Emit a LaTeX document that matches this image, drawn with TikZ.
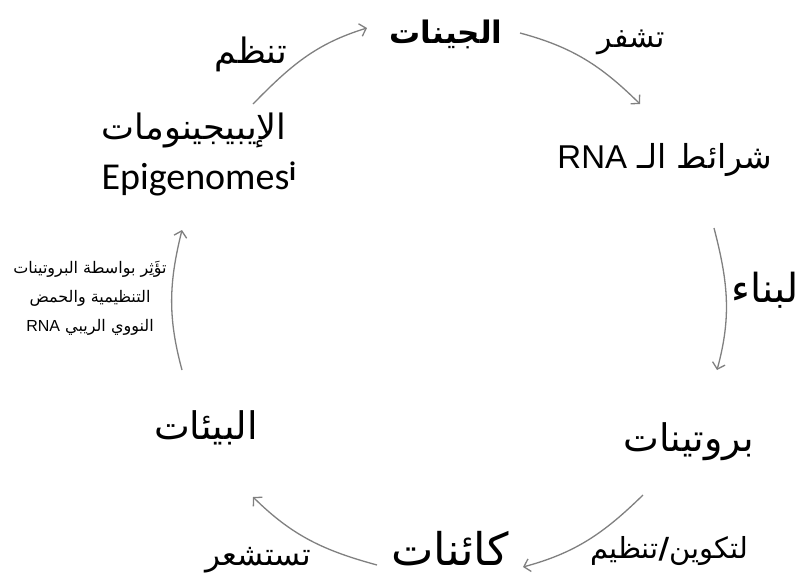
\documentclass[tikz,border=0pt]{standalone}
\usepackage{fontspec}
\usetikzlibrary{arrows.meta}
\TeXXeTstate=1
\newfontfamily\arabicfont[Script=Arabic]{DejaVu Sans}
\newfontfamily\latinsans{Liberation Sans}
\newfontfamily\carl{Carlito}
\newcommand{\fsz}[1]{\fontsize{#1}{#1}\selectfont}
\begin{document}
\begin{tikzpicture}[x=1pt,y=-1pt,
  lbl/.style={inner sep=0pt,font=\arabicfont},
  arr/.style={draw=black!50,line width=1.3pt,-{Straight Barb[length=6pt,width=13pt]}}]
\useasboundingbox[fill=white] (0,0) rectangle (809,582);
% nodes
\node[lbl,font=\arabicfont\bfseries\fsz{31}] (genes) at (446,34) {\beginR الجينات\endR};
\node[lbl,font=\arabicfont\fsz{35}] (tanzum) at (251,54) {\beginR تنظم\endR};
\node[lbl,font=\arabicfont\fsz{30}] (tushaffir) at (631,42) {\beginR تشفر\endR};
\node[lbl,font=\arabicfont\fsz{33}] (rna) at (665,160) {\beginR شرائط الـ \beginL{\latinsans RNA}\endL\endR};
\node[lbl,font=\arabicfont\fsz{40},anchor=west] (libina) at (731,290) {\beginR لبناء\endR};
\node[lbl,font=\arabicfont\fsz{38}] (proteins) at (689,442) {\beginR بروتينات\endR};
\node[lbl,font=\arabicfont\fsz{45}] (organisms) at (450,549) {\beginR كائنات\endR};
\node[lbl,font=\arabicfont\fsz{29}] (form) at (669,551) {\beginR لتكوين\textbf{/}تنظيم\endR};
\node[lbl,font=\arabicfont\fsz{31}] (sense) at (258,560) {\beginR تستشعر\endR};
\node[lbl,font=\arabicfont\fsz{38}] (env) at (206,428) {\beginR البيئات\endR};
\node[lbl,font=\arabicfont\fontsize{16}{29}\selectfont,align=center] (affect) at (90,298)
  {\beginR تؤَثِر بواسطة البروتينات\endR\\ \beginR التنظيمية والحمض\endR\\ \beginR النووي الريبي \beginL{\latinsans RNA}\endL\endR};
\node[lbl,font=\arabicfont\fsz{35}] (epiar) at (194,130) {\beginR الإيبيجينومات\endR};
\node[lbl,font=\carl\fsz{38}] (epien) at (199,179) {Epigenomes\textsuperscript{\bfseries i}};
% arrow end points
\coordinate (a1s) at (253,104); \coordinate (a1e) at (367,28);
\coordinate (a2s) at (520,33);  \coordinate (a2e) at (640,104);
\coordinate (a3s) at (714,228); \coordinate (a3e) at (717,370);
\coordinate (a4s) at (643,495); \coordinate (a4e) at (523,567);
\coordinate (a5s) at (377,565); \coordinate (a5e) at (253,497);
\coordinate (a6s) at (182,370); \coordinate (a6e) at (182,230);
\draw[arr] (a1s) to[out=45.6,in=197] (a1e);
\draw[arr] (a2s) to[out=-15,in=135.4] (a2e);
\draw[arr] (a3s) to[out=-75.4,in=74.7] (a3e);
\draw[arr] (a4s) to[out=-135.7,in=15.1] (a4e);
\draw[arr] (a5s) to[out=164.8,in=-44.6] (a5e);
\draw[arr] (a6s) to[out=105.2,in=-104] (a6e);
\end{tikzpicture}
\end{document}
